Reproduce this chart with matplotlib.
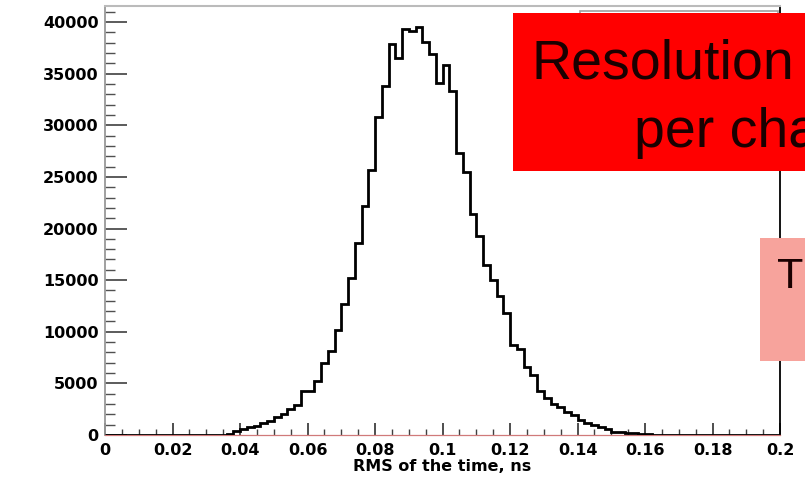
import numpy as np
import matplotlib
matplotlib.use("Agg")
import matplotlib.pyplot as plt
from matplotlib.patches import Rectangle
from matplotlib.ticker import MultipleLocator, FuncFormatter

# histogram: 100 bins of 0.002 ns between 0 and 0.2
n_bins = 100
x_lo, x_hi = 0.0, 0.2
first_bin = 14  # bin starting at 0.028
rms_counts = [0, 10, 20, 40, 120, 350, 600, 800, 900, 1150,
              1400, 1700, 2000, 2500, 2900, 4250, 4300, 5200, 7000, 8100,
              10200, 12700, 15200, 18600, 22200, 25700, 30800, 33800, 37900, 36500,
              39300, 39100, 39500, 38100, 36900, 34100, 35800, 33300, 27300, 25500,
              21400, 19300, 16500, 15000, 13500, 11800, 8700, 8300, 6600, 5800,
              4300, 3550, 3050, 2680, 2260, 1940, 1450, 1130, 970, 750,
              550, 320, 300, 200, 180, 120, 80, 40, 30, 15, 10]

x_label = "RMS of the time, ns"
box_line1 = "Resolution"
box_line2 = "per channel"
pink_text = "T"

W, H = 805, 486

plt.rcParams['font.family'] = ['DejaVu Sans']

counts = np.zeros(n_bins)
counts[first_bin:first_bin + len(rms_counts)] = rms_counts
edges = np.linspace(x_lo, x_hi, n_bins + 1)

fig = plt.figure(figsize=(W / 100, H / 100), dpi=100)
ax = fig.add_axes([105 / W, 1 - 435 / H, 675 / W, 429 / H])

ax.stairs(counts, edges, color='black', lw=2.0, zorder=5, baseline=None)
ax.set_xlim(x_lo, x_hi)
ax.set_ylim(0, 41550)

ax.xaxis.set_major_locator(MultipleLocator(0.02))
ax.xaxis.set_minor_locator(MultipleLocator(0.005))
ax.yaxis.set_major_locator(MultipleLocator(5000))
ax.yaxis.set_minor_locator(MultipleLocator(1000))
ax.xaxis.set_major_formatter(FuncFormatter(lambda v, p: f"{v:g}"))
ax.yaxis.set_major_formatter(FuncFormatter(lambda v, p: f"{v:.0f}"))

ax.tick_params(axis='y', which='major', direction='in', length=15.5, width=1.2,
               color='#404040', pad=4.5, labelsize=11.5)
ax.tick_params(axis='y', which='minor', direction='in', length=7, width=1.0, color='#505050')
ax.tick_params(axis='x', which='major', direction='in', length=9, width=1.2,
               color='#303030', pad=5.5, labelsize=11.5)
ax.tick_params(axis='x', which='minor', direction='in', length=4.5, width=1.0, color='#404040')
for lab in ax.get_xticklabels() + ax.get_yticklabels():
    lab.set_fontweight('bold')

ax.spines['left'].set_color('#999999')
ax.spines['left'].set_linewidth(1.3)
ax.spines['top'].set_color('#bbbbbb')
ax.spines['top'].set_linewidth(1.5)
ax.spines['bottom'].set_color('#d07a7a')
ax.spines['bottom'].set_linewidth(0.9)
ax.spines['right'].set_color('black')
ax.spines['right'].set_linewidth(1.3)

ax.set_xlabel(x_label, fontsize=11.5, fontweight='bold', labelpad=3)
ax.xaxis.set_label_coords(0.5, -0.055)

def fig_rect(x0, y0, x1, y1, **kw):
    r = Rectangle((x0 / W, 1 - y1 / H), (x1 - x0) / W, (y1 - y0) / H,
                  transform=fig.transFigure, **kw)
    fig.add_artist(r)

# stats box peeking out, then the slide boxes on top
fig_rect(580, 11, 778, 60, facecolor='white', edgecolor='#a0a0a0', lw=1.2, zorder=10)
fig_rect(513, 13, 830, 171, facecolor='#ff0000', edgecolor='none', zorder=11)
fig_rect(760, 238, 830, 361, facecolor='#f7a39c', edgecolor='none', zorder=11)

fig.text(531 / W, 1 - 78 / H, box_line1, family=['Liberation Sans'], fontsize=40,
         color='#1a0000', ha='left', va='baseline', zorder=12)
fig.text(634 / W, 1 - 147 / H, box_line2, family=['Liberation Sans'], fontsize=40,
         color='#1a0000', ha='left', va='baseline', zorder=12)
fig.text(777 / W, 1 - 288 / H, pink_text, family=['Liberation Sans'], fontsize=31,
         color='#1a0000', ha='left', va='baseline', zorder=12)

fig.savefig('out.png', dpi=100)
